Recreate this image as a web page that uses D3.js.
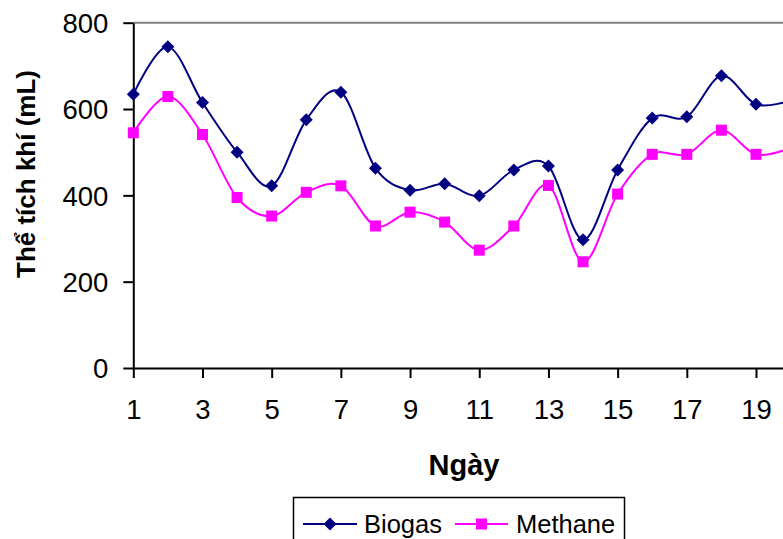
<!DOCTYPE html>
<html>
<head>
<meta charset="utf-8">
<script src="https://cdn.jsdelivr.net/npm/d3@7"></script>
<style>
  body { margin: 0; background: #fff; }
  svg { display: block; font-family: Arial, "Liberation Sans", sans-serif; }
</style>
</head>
<body>
<div id="chart"></div>
<script>
var days = [1,2,3,4,5,6,7,8,9,10,11,12,13,14,15,16,17,18,19,20];
var biogas = [634,744,615,500,422,575,639,463,412,427,399,459,468,297,459,579,582,677,611,620];
var methane = [545,629,541,395,352,407,422,329,361,338,273,329,423,246,403,495,495,551,495,510];
var xTicks = [1,3,5,7,9,11,13,15,17,19];
var yTicks = [0,200,400,600,800];

var W = 783, H = 539;
var plotL = 133.3, plotT = 22.7, plotB = 368, plotR = 790.6;

var svg = d3.select("#chart")
  .append("svg")
    .attr("width", W)
    .attr("height", H);

var x = d3.scaleLinear()
  .domain([1, 20])
  .range([plotL, plotR]);

var y = d3.scaleLinear()
  .domain([0, 800])
  .range([plotB, plotT]);

// top gridline
svg.append("line")
  .attr("x1", plotL).attr("x2", plotR)
  .attr("y1", y(800)).attr("y2", y(800))
  .attr("stroke", "#808080")
  .attr("stroke-width", 2);

var xAxis = svg.append("g")
  .attr("transform", "translate(0," + plotB + ")")
  .call(d3.axisBottom(x).tickValues(xTicks).tickSize(10).tickSizeOuter(0).tickPadding(22));

var yAxis = svg.append("g")
  .attr("transform", "translate(" + plotL + ",0)")
  .call(d3.axisLeft(y).tickValues(yTicks).tickSize(10).tickSizeOuter(0).tickPadding(15));

[xAxis, yAxis].forEach(function(g) {
  g.selectAll("path, line").attr("stroke", "#000").attr("stroke-width", 2);
  g.selectAll("text")
    .attr("fill", "#000")
    .style("font-size", "27.5px")
    .style("font-family", "Arial, 'Liberation Sans', sans-serif");
});
yAxis.selectAll("text").attr("dy", "0.36em");
xAxis.selectAll("text").attr("dy", "0.7em");

var line = function(vals) {
  return d3.line()
    .curve(d3.curveCardinal.tension(0))
    .x(function(d, i) { return x(days[i]) })
    .y(function(d) { return y(d) })(vals);
};

svg.append("path")
  .attr("d", line(methane))
  .attr("fill", "none")
  .attr("stroke", "#FF00FF")
  .attr("stroke-width", 2);

svg.append("path")
  .attr("d", line(biogas))
  .attr("fill", "none")
  .attr("stroke", "#000080")
  .attr("stroke-width", 2);

var sq = 11, dm = 6.5;

svg.selectAll(".sq")
  .data(methane)
  .enter().append("rect")
    .attr("x", function(d, i) { return x(days[i]) - sq / 2 })
    .attr("y", function(d) { return y(d) - sq / 2 })
    .attr("width", sq)
    .attr("height", sq)
    .attr("fill", "#FF00FF");

var diamond = function(cx, cy) {
  return "M" + cx + "," + (cy - dm) + "L" + (cx + dm) + "," + cy +
         "L" + cx + "," + (cy + dm) + "L" + (cx - dm) + "," + cy + "Z";
};

svg.selectAll(".dm")
  .data(biogas)
  .enter().append("path")
    .attr("d", function(d, i) { return diamond(x(days[i]), y(d)) })
    .attr("fill", "#000080");

// axis titles
svg.append("text")
  .attr("transform", "translate(35,174) rotate(-90)")
  .attr("text-anchor", "middle")
  .style("font-size", "26px")
  .style("font-weight", "bold")
  .text("Thể tích khí (mL)");

svg.append("text")
  .attr("x", 464)
  .attr("y", 475)
  .attr("text-anchor", "middle")
  .style("font-size", "29px")
  .style("font-weight", "bold")
  .text("Ngày");

// legend
var lg = svg.append("g");
lg.append("rect")
  .attr("x", 293.5).attr("y", 497.5)
  .attr("width", 331).attr("height", 60)
  .attr("fill", "#fff")
  .attr("stroke", "#000")
  .attr("stroke-width", 1.5);

var ly = 524;
lg.append("line")
  .attr("x1", 303).attr("x2", 357).attr("y1", ly).attr("y2", ly)
  .attr("stroke", "#000080").attr("stroke-width", 2);
lg.append("path")
  .attr("d", diamond(330, ly))
  .attr("fill", "#000080");
lg.append("text")
  .attr("x", 364).attr("y", ly).attr("dy", "0.36em")
  .style("font-size", "25.5px")
  .text("Biogas");

lg.append("line")
  .attr("x1", 455).attr("x2", 508).attr("y1", ly).attr("y2", ly)
  .attr("stroke", "#FF00FF").attr("stroke-width", 2);
lg.append("rect")
  .attr("x", 481.5 - sq / 2).attr("y", ly - sq / 2)
  .attr("width", sq).attr("height", sq)
  .attr("fill", "#FF00FF");
lg.append("text")
  .attr("x", 516).attr("y", ly).attr("dy", "0.36em")
  .style("font-size", "25.5px")
  .text("Methane");
</script>
</body>
</html>
